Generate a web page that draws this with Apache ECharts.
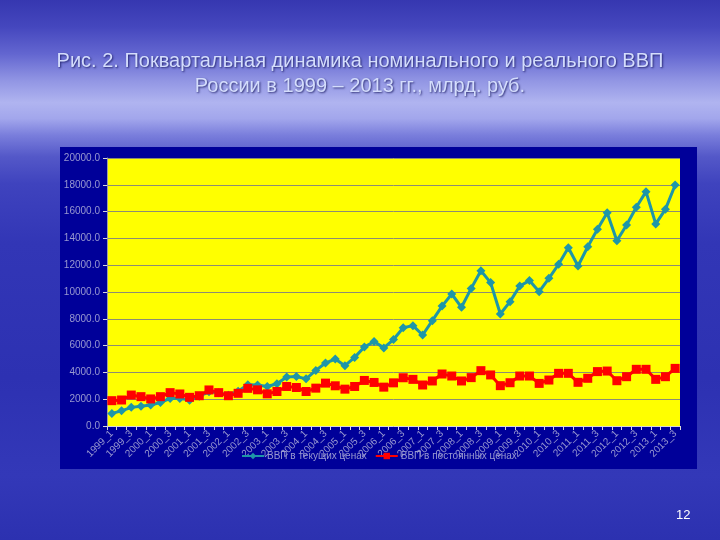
<!DOCTYPE html>
<html><head><meta charset="utf-8">
<script src="https://cdn.jsdelivr.net/npm/echarts@6/dist/echarts.min.js"></script>
<style>
html,body{margin:0;padding:0;width:720px;height:540px;overflow:hidden;}
body{background:linear-gradient(180deg,#3637b0 0%,#4547be 5%,#6366d0 10%,#9296e4 15%,#b0b4f0 19%,#a2a6ec 22%,#7a7edc 25%,#5458c8 29%,#3f43be 34%,#3236b6 45%,#2d31b2 70%,#3338b8 88%,#2c31b0 100%);}
#box{position:absolute;left:60px;top:147px;width:637px;height:322px;background:#000099;}
#main{position:absolute;left:0;top:0;width:720px;height:540px;}
</style></head>
<body>
<div id="box"></div>
<div id="main"></div>
<script>
const categories = ["1999_1","1999_2","1999_3","1999_4","2000_1","2000_2","2000_3","2000_4","2001_1","2001_2","2001_3","2001_4","2002_1","2002_2","2002_3","2002_4","2003_1","2003_2","2003_3","2003_4","2004_1","2004_2","2004_3","2004_4","2005_1","2005_2","2005_3","2005_4","2006_1","2006_2","2006_3","2006_4","2007_1","2007_2","2007_3","2007_4","2008_1","2008_2","2008_3","2008_4","2009_1","2009_2","2009_3","2009_4","2010_1","2010_2","2010_3","2010_4","2011_1","2011_2","2011_3","2011_4","2012_1","2012_2","2012_3","2012_4","2013_1","2013_2","2013_3"];
const nominalGDP = [940,1130,1390,1480,1560,1750,2060,2060,1930,2220,2550,2480,2300,2600,3080,3060,2950,3150,3650,3700,3520,4150,4700,5000,4500,5120,5900,6300,5830,6450,7330,7490,6790,7860,8950,9850,8860,10270,11590,10700,8360,9280,10450,10850,10020,11020,12070,13300,11940,13380,14680,15920,13830,15000,16320,17490,15080,16170,17990];
const realGDP = [1890,1940,2310,2190,2020,2190,2490,2390,2140,2260,2690,2490,2260,2440,2810,2700,2400,2575,2950,2875,2575,2825,3200,3000,2750,2950,3400,3250,2900,3220,3600,3480,3060,3360,3880,3730,3360,3610,4130,3810,3010,3230,3730,3730,3180,3430,3930,3930,3260,3560,4060,4100,3380,3680,4230,4230,3480,3680,4300];
const seriesNames = ["ВВП в текущих ценах","ВВП в постоянных ценах"];
const titleLines = ["Рис. 2. Поквартальная динамика номинального и реального ВВП","России в 1999 – 2013 гг., млрд. руб."];

const font = "'Liberation Sans', Arial, sans-serif";
const lab = '#9898d0';
const chart = echarts.init(document.getElementById('main'), null, {renderer:'canvas'});
chart.setOption({
  backgroundColor: 'transparent',
  animation: false,
  textStyle: {fontFamily: font},
  title: {
    text: titleLines.join('\n'),
    left: 'center', top: 44,
    textStyle: {fontFamily: font, fontSize: 20, fontWeight: 'normal', color: '#d4ddfc', lineHeight: 25,
      textShadowColor: 'rgba(20,20,90,0.8)', textShadowBlur: 2, textShadowOffsetX: 1, textShadowOffsetY: 1}
  },
  graphic: [{type:'text', left: 676, top: 509, style:{text:'12', fill:'#ffffff', font:"13px " + font}}],
  legend: {
    left: 236, top: 446, itemWidth: 22, itemHeight: 8, itemGap: 8,
    textStyle: {color: lab, fontSize: 10, fontFamily: font, padding:[0,0,0,-2]},
    data: seriesNames
  },
  grid: {left: 107, right: 40, top: 158, bottom: 114, show: true, backgroundColor: '#ffff00', borderWidth: 0},
  xAxis: {
    type: 'category', data: categories, boundaryGap: true,
    axisLine: {lineStyle: {color: '#d8d8d8', width: 1}},
    axisTick: {show: true, interval: 0, length: 4, lineStyle: {color: '#d8d8d8'}},
    axisLabel: {interval: 1, rotate: 45, color: lab, fontSize: 10, margin: 6, fontFamily: font},
    splitLine: {show: false}
  },
  yAxis: {
    type: 'value', min: 0, max: 20000, interval: 2000,
    axisLine: {show: true, lineStyle: {color: '#a0a0a0'}},
    axisTick: {show: true, length: 4, lineStyle: {color: '#d8d8d8'}},
    axisLabel: {color: lab, fontSize: 10, margin: 7, fontFamily: font, formatter: v => v.toFixed(1)},
    splitLine: {show: true, lineStyle: {color: '#8c8c74', width: 1}}
  },
  series: [
    {name: seriesNames[0], type: 'line', data: nominalGDP, symbol: 'diamond', symbolSize: 9, showAllSymbol: true,
      lineStyle: {color: '#1e96a8', width: 3}, itemStyle: {color: '#1e96a8'}},
    {name: seriesNames[1], type: 'line', data: realGDP, symbol: 'rect', symbolSize: 9, showAllSymbol: true,
      lineStyle: {color: '#ff0000', width: 3}, itemStyle: {color: '#ff0000'}}
  ]
});
</script>
</body></html>
